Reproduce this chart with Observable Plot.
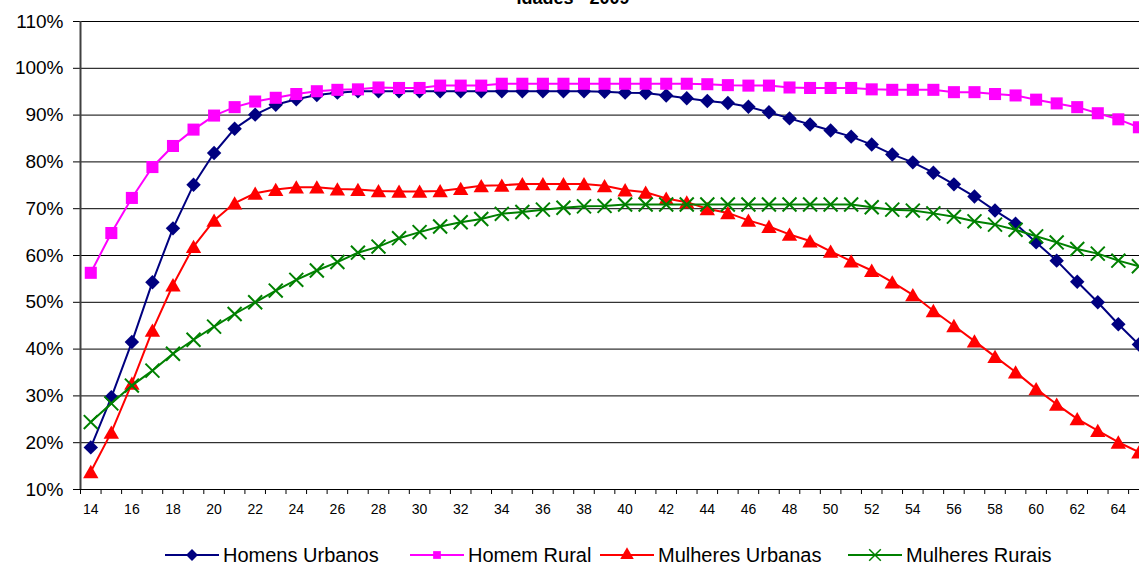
<!DOCTYPE html>
<html><head><meta charset="utf-8">
<script src="https://cdn.jsdelivr.net/npm/d3@7"></script>
<script src="https://cdn.jsdelivr.net/npm/@observablehq/plot@0.6"></script>
<style>
body{margin:0;background:#fff;font-family:"Liberation Sans",Arial,sans-serif;}
#legend{position:relative;width:1139px;height:34px;margin-top:8px;}
.item{position:absolute;top:0;height:34px;display:flex;align-items:center;font-size:20px;color:#000;white-space:nowrap;}
.item svg{margin-right:4px;display:block}
</style></head><body><div id="chart"></div><div id="legend"></div>
<script>
const ages = [14,15,16,17,18,19,20,21,22,23,24,25,26,27,28,29,30,31,32,33,34,35,36,37,38,39,
  40,41,42,43,44,45,46,47,48,49,50,51,52,53,54,55,56,57,58,59,60,61,62,63,64,65];
const homensUrbanos = [19.0,29.7,41.5,54.3,65.8,75.1,81.9,87.1,90.1,92.2,93.4,94.3,94.8,95.1,95.1,95.1,95.1,95.1,95.1,95.1,95.1,95.1,95.1,95.1,95.1,95.0,
  94.8,94.7,94.2,93.6,93.0,92.6,91.8,90.6,89.3,88.0,86.7,85.4,83.7,81.6,79.9,77.7,75.2,72.6,69.6,66.8,62.8,58.9,54.4,50.0,45.3,41.0];
const homemRural = [56.3,64.8,72.3,78.9,83.4,86.9,89.9,91.7,92.9,93.7,94.5,95.1,95.4,95.5,95.9,95.8,95.8,96.3,96.3,96.3,96.7,96.7,96.7,96.7,96.7,96.7,
  96.7,96.7,96.7,96.7,96.6,96.4,96.3,96.3,95.9,95.8,95.8,95.8,95.5,95.4,95.4,95.4,94.9,94.9,94.5,94.2,93.3,92.5,91.7,90.4,89.1,87.4];
const mulheresUrbanas = [13.8,22.2,32.7,44.0,53.7,61.9,67.5,71.2,73.3,74.1,74.6,74.6,74.2,74.1,73.8,73.7,73.7,73.8,74.3,74.9,75.0,75.3,75.3,75.3,75.3,74.9,
  74.0,73.5,72.2,71.4,70.0,69.1,67.5,66.2,64.5,63.1,60.9,58.8,56.8,54.3,51.6,48.2,45.0,41.7,38.4,35.1,31.5,28.2,25.1,22.6,20.1,18.0];
const mulheresRurais = [24.4,28.4,32.2,35.4,39.0,42.0,44.8,47.5,50.0,52.5,54.8,56.8,58.6,60.6,61.9,63.7,65.0,66.2,67.1,67.8,68.9,69.3,69.8,70.2,70.5,70.6,
  70.9,70.9,70.9,70.9,70.9,70.9,70.9,70.9,70.9,70.9,70.9,70.9,70.3,69.8,69.6,69.0,68.3,67.3,66.6,65.5,64.1,62.8,61.4,60.4,58.9,57.7];
const seriesNames = ["Homens Urbanos","Homem Rural","Mulheres Urbanas","Mulheres Rurais"];
const seriesColors = ["#000080","#FF00FF","#FF0000","#008000"];
const seriesSymbols = ["diamond2","square","triangle","times"];
const yTicks = [10,20,30,40,50,60,70,80,90,100,110];
const xLabels = [14,16,18,20,22,24,26,28,30,32,34,36,38,40,42,44,46,48,50,52,54,56,58,60,62,64];
const titleText = "Idades - 2009";

const allValues = [homensUrbanos, homemRural, mulheresUrbanas, mulheresRurais];
const rows = allValues.map((vals, i) => ages.map((a, j) => ({age: a, value: vals[j], series: seriesNames[i]})));
const boundaries = ages.map(a => a - 0.5);

const symR = [6.5, 6.8, 5.7, 6.4];
const marks = [
  Plot.ruleY(yTicks, {stroke: "#000", strokeWidth: 1}),
  Plot.axisY({ticks: yTicks, tickFormat: d => d + "%", tickSize: 7, tickPadding: 10, fontSize: 19, stroke: "#000", label: null}),
  Plot.axisX({ticks: boundaries, tickFormat: () => "", tickSize: 5, stroke: "#000", label: null}),
  Plot.axisX({ticks: xLabels, tickFormat: d => String(d), tickSize: 0, tickPadding: 15, fontSize: 14, label: null}),
  Plot.ruleX([13.5], {stroke: "#404040", strokeWidth: 2}),
  Plot.text([titleText], {frameAnchor: "top", dx: -37, dy: -18, fontSize: 18, fontWeight: "bold", textAnchor: "middle", lineAnchor: "bottom"})
];
rows.forEach((data, i) => {
  marks.push(Plot.line(data, {x: "age", y: "value", stroke: seriesColors[i], strokeWidth: 2}));
  const opts = {x: "age", y: "value", r: symR[i], symbol: () => seriesSymbols[i]};
  if (seriesSymbols[i] === "times") Object.assign(opts, {stroke: seriesColors[i], strokeWidth: 2, fill: "none"});
  else Object.assign(opts, {fill: seriesColors[i], stroke: "none"});
  if (seriesSymbols[i] === "triangle") opts.dy = 2;
  marks.push(Plot.dot(data, opts));
});

const chart = Plot.plot({
  width: 1139, height: 530,
  marginLeft: 80, marginRight: 0, marginTop: 21, marginBottom: 41,
  style: {fontFamily: "Liberation Sans, Arial, sans-serif", color: "#000", background: "#fff"},
  x: {type: "linear", domain: [13.5, 65.03], axis: null, label: null},
  y: {domain: [10, 110], axis: null, label: null},
  symbol: {type: "identity"},
  marks
});
document.getElementById("chart").appendChild(chart);

// legend
const legendLeft = [165, 410, 600, 848];
const legend = document.getElementById("legend");
seriesNames.forEach((name, i) => {
  const item = document.createElement("div");
  item.className = "item";
  item.style.left = legendLeft[i] + "px";
  const ns = "http://www.w3.org/2000/svg";
  const svg = document.createElementNS(ns, "svg");
  svg.setAttribute("width", 54); svg.setAttribute("height", 20);
  const line = document.createElementNS(ns, "line");
  line.setAttribute("x1", 0); line.setAttribute("x2", 54); line.setAttribute("y1", 10); line.setAttribute("y2", 10);
  line.setAttribute("stroke", seriesColors[i]); line.setAttribute("stroke-width", 2);
  svg.appendChild(line);
  const path = document.createElementNS(ns, "path");
  const symMap = {diamond2: d3.symbolDiamond2, square: d3.symbolSquare, triangle: d3.symbolTriangle, times: d3.symbolTimes};
  const sizes = {diamond2: 90, square: 60, triangle: 80, times: 90};
  path.setAttribute("d", d3.symbol(symMap[seriesSymbols[i]], sizes[seriesSymbols[i]])());
  path.setAttribute("transform", "translate(27,10)");
  if (seriesSymbols[i] === "times") { path.setAttribute("stroke", seriesColors[i]); path.setAttribute("stroke-width", 1.5); path.setAttribute("fill", "none"); }
  else path.setAttribute("fill", seriesColors[i]);
  svg.appendChild(path);
  item.appendChild(svg);
  const span = document.createElement("span");
  span.textContent = name;
  item.appendChild(span);
  legend.appendChild(item);
});
</script></body></html>
